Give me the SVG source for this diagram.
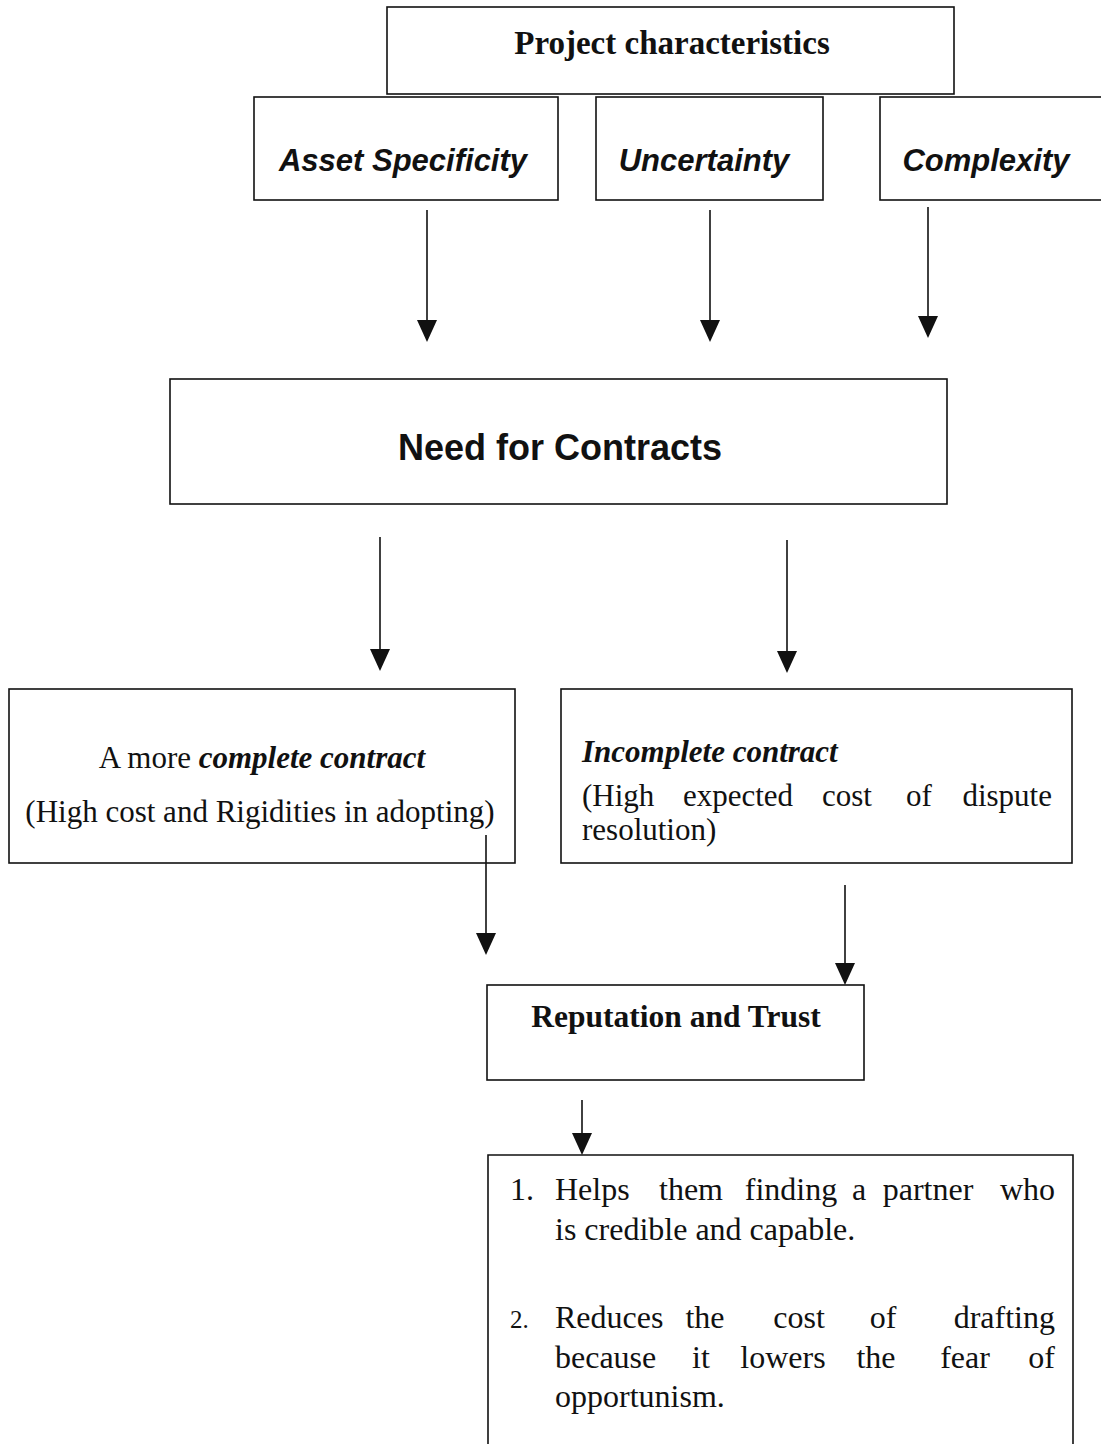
<svg xmlns="http://www.w3.org/2000/svg" width="1101" height="1444" viewBox="0 0 1101 1444">
<style>
.box{fill:#fff;stroke:#111;stroke-width:1.6}
.con{stroke:#111;stroke-width:1.6;fill:none}
.hd{fill:#111}
.bi{font-family:"Liberation Sans",Arial,sans-serif;font-weight:bold;font-style:italic;font-size:31px;fill:#111}
.sb{font-family:"Liberation Serif","Times New Roman",serif;font-weight:bold;fill:#111}
.sr{font-family:"Liberation Serif","Times New Roman",serif;fill:#111;font-size:31px}
.li{font-family:"Liberation Serif","Times New Roman",serif;fill:#111;font-size:32px}
.m{text-anchor:middle}
.e{text-anchor:end}
</style>
<rect width="1101" height="1444" fill="#fff"/>
<g id="project">
<rect class="box" x="387" y="7" width="567" height="87"/>
<text class="sb" x="672" y="54" font-size="33" text-anchor="middle">Project characteristics</text>
</g>
<g id="asset">
<rect class="box" x="254" y="97" width="304" height="103"/>
<text class="bi" x="403" y="171" text-anchor="middle">Asset Specificity</text>
</g>
<g id="uncertainty">
<rect class="box" x="596" y="97" width="227" height="103"/>
<text class="bi" x="704" y="171" text-anchor="middle">Uncertainty</text>
</g>
<g id="complexity">
<rect class="box" x="880" y="97" width="230" height="103"/>
<text class="bi" x="986" y="171" text-anchor="middle">Complexity</text>
</g>
<g id="need">
<rect class="box" x="170" y="379" width="777" height="125"/>
<text x="560" y="460" font-family="'Liberation Sans',Arial,sans-serif" font-weight="bold" font-size="36" text-anchor="middle" fill="#111">Need for Contracts</text>
</g>
<g id="complete">
<rect class="box" x="9" y="689" width="506" height="174"/>
<text class="sr" x="262" y="768" text-anchor="middle" font-size="31.5">A more <tspan font-weight="bold" font-style="italic">complete contract</tspan></text>
<text class="sr" x="260" y="822" text-anchor="middle" font-size="27.5">(High cost and Rigidities in adopting)</text>
</g>
<g id="incomplete">
<rect class="box" x="561" y="689" width="511" height="174"/>
<text class="sr" x="582" y="762" font-weight="bold" font-style="italic">Incomplete contract</text>
<g class="sr" font-size="27.5">
<text x="582" y="806">(High</text>
<text class="m" x="738" y="806">expected</text>
<text class="m" x="847" y="806">cost</text>
<text class="m" x="919" y="806">of</text>
<text class="e" x="1052" y="806">dispute</text>
<text x="582" y="840">resolution)</text>
</g>
</g>
<g id="reputation">
<rect class="box" x="487" y="985" width="377" height="95"/>
<text class="sb" x="676" y="1027" font-size="31.5" text-anchor="middle">Reputation and Trust</text>
</g>
<g id="benefits">
<path class="box" d="M488 1444 V1155 H1073 V1444"/>
<g class="li">
<text x="510" y="1200">1.</text>
<text x="555" y="1200">Helps</text>
<text class="m" x="691" y="1200">them</text>
<text class="m" x="791" y="1200">finding</text>
<text class="m" x="859" y="1200">a</text>
<text class="m" x="928" y="1200">partner</text>
<text class="e" x="1055" y="1200">who</text>
<text x="555" y="1240">is credible and capable.</text>
<text x="510" y="1328" font-size="25">2.</text>
<text x="555" y="1328">Reduces</text>
<text class="m" x="705" y="1328">the</text>
<text class="m" x="799" y="1328">cost</text>
<text class="m" x="883" y="1328">of</text>
<text class="e" x="1055" y="1328">drafting</text>
<text x="555" y="1368">because</text>
<text class="m" x="701" y="1368">it</text>
<text class="m" x="783" y="1368">lowers</text>
<text class="m" x="876" y="1368">the</text>
<text class="m" x="965" y="1368">fear</text>
<text class="e" x="1055" y="1368">of</text>
<text x="555" y="1407">opportunism.</text>
</g>
</g>
<g id="connectors">
<line class="con" x1="427" y1="210" x2="427" y2="322"/>
<polygon class="hd" points="417,320 437,320 427,342"/>
<line class="con" x1="710" y1="210" x2="710" y2="322"/>
<polygon class="hd" points="700,320 720,320 710,342"/>
<line class="con" x1="928" y1="207" x2="928" y2="318"/>
<polygon class="hd" points="918,316 938,316 928,338"/>
<line class="con" x1="380" y1="537" x2="380" y2="651"/>
<polygon class="hd" points="370,649 390,649 380,671"/>
<line class="con" x1="787" y1="540" x2="787" y2="653"/>
<polygon class="hd" points="777,651 797,651 787,673"/>
<line class="con" x1="486" y1="835" x2="486" y2="935"/>
<polygon class="hd" points="476,933 496,933 486,955"/>
<line class="con" x1="845" y1="885" x2="845" y2="965"/>
<polygon class="hd" points="835,963 855,963 845,985"/>
<line class="con" x1="582" y1="1100" x2="582" y2="1135"/>
<polygon class="hd" points="572,1133 592,1133 582,1155"/>
</g>
</svg>
